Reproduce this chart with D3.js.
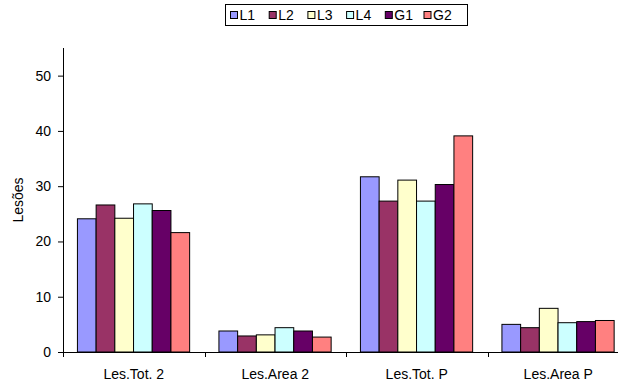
<!DOCTYPE html>
<html>
<head>
<meta charset="utf-8">
<script src="https://cdn.jsdelivr.net/npm/d3@7"></script>
<style>
  html, body { margin: 0; padding: 0; background: #fff; }
  svg { display: block; font-family: "Liberation Sans", Arial, sans-serif; }
</style>
</head>
<body>
<svg id="chart" width="618" height="385"></svg>
<script>
const categories = ["Les.Tot. 2", "Les.Area 2", "Les.Tot. P", "Les.Area P"];
const seriesNames = ["L1", "L2", "L3", "L4", "G1", "G2"];
const seriesColors = ["#9999FF", "#993366", "#FFFFCC", "#CCFFFF", "#660066", "#FF8080"];
const L1 = [24.1, 3.8, 31.7, 5.0];
const L2 = [26.6, 2.9, 27.3, 4.4];
const L3 = [24.2, 3.1, 31.1, 7.9];
const L4 = [26.8, 4.4, 27.3, 5.3];
const G1 = [25.6, 3.8, 30.3, 5.5];
const G2 = [21.6, 2.7, 39.1, 5.7];
const yTicks = [0, 10, 20, 30, 40, 50];
const yLabel = "Lesões";

const seriesValues = [L1, L2, L3, L4, G1, G2];
const svg = d3.select("#chart");
const pLeft = 63, pRight = 629, pTop = 48, pBottom = 352;
const fs = 14;

const x0 = d3.scaleBand().domain(categories).range([pLeft, pRight]).padding(0);
const bw = x0.bandwidth();
const x1 = d3.scaleBand().domain(seriesNames).range([bw * 0.102, bw * 0.895]).padding(0);
const y = d3.scaleLinear().domain([0, 55]).range([pBottom, pTop]);

// bars
const groups = svg.append("g").selectAll("g")
  .data(categories).join("g")
  .attr("transform", d => `translate(${x0(d)},0)`);
groups.selectAll("rect")
  .data((c, ci) => seriesNames.map((s, si) => ({s, si, v: seriesValues[si][ci]})))
  .join("rect")
  .attr("x", d => x1(d.s))
  .attr("y", d => y(d.v))
  .attr("width", x1.bandwidth())
  .attr("height", d => y(0) - y(d.v))
  .attr("fill", d => seriesColors[d.si])
  .attr("stroke", "#000")
  .attr("stroke-width", 1);

// y axis
const yAxis = svg.append("g")
  .attr("transform", `translate(${pLeft},0)`)
  .call(d3.axisLeft(y).tickValues(yTicks).tickSize(5).tickPadding(7).tickSizeOuter(0));
yAxis.select(".domain").attr("stroke", "#000");
yAxis.selectAll("line").attr("stroke", "#000");
yAxis.selectAll("text").attr("font-size", fs).attr("fill", "#000")
  .attr("font-family", "Liberation Sans, Arial, sans-serif");
svg.append("line").attr("x1", pLeft + 0.5).attr("x2", pLeft + 0.5)
  .attr("y1", pTop).attr("y2", pBottom).attr("stroke", "#000");

// x axis
const xAxisG = svg.append("g").attr("transform", `translate(0,${pBottom})`);
xAxisG.append("line").attr("x1", pLeft).attr("x2", pRight).attr("y1", 0.5).attr("y2", 0.5).attr("stroke", "#000");
const boundaries = categories.map(c => x0(c)).concat([pRight]);
xAxisG.selectAll("line.tick").data(boundaries).join("line")
  .attr("class", "tick")
  .attr("x1", d => Math.round(d) + 0.5).attr("x2", d => Math.round(d) + 0.5)
  .attr("y1", 0).attr("y2", 5).attr("stroke", "#000");
xAxisG.selectAll("text").data(categories).join("text")
  .attr("x", d => x0(d) + bw / 2)
  .attr("y", 27)
  .attr("text-anchor", "middle")
  .attr("font-size", fs)
  .attr("fill", "#000")
  .text(d => d);

// y label
svg.append("text")
  .attr("transform", `translate(23,${(pTop + pBottom) / 2}) rotate(-90)`)
  .attr("text-anchor", "middle")
  .attr("font-size", fs)
  .attr("fill", "#000")
  .text(yLabel);

// legend
const legend = svg.append("g");
legend.append("rect").attr("x", 225.5).attr("y", 4.5).attr("width", 242).attr("height", 21)
  .attr("fill", "#fff").attr("stroke", "#000");
const items = legend.selectAll("g.item").data(seriesNames).join("g")
  .attr("class", "item")
  .attr("transform", (d, i) => `translate(${230.5 + i * 38.7},0)`);
items.append("rect").attr("x", 0).attr("y", 11.5).attr("width", 7).attr("height", 7)
  .attr("fill", (d, i) => seriesColors[i]).attr("stroke", "#000");
items.append("text").attr("x", 9).attr("y", 20).attr("font-size", fs).attr("fill", "#000").text(d => d);
</script>
</body>
</html>
